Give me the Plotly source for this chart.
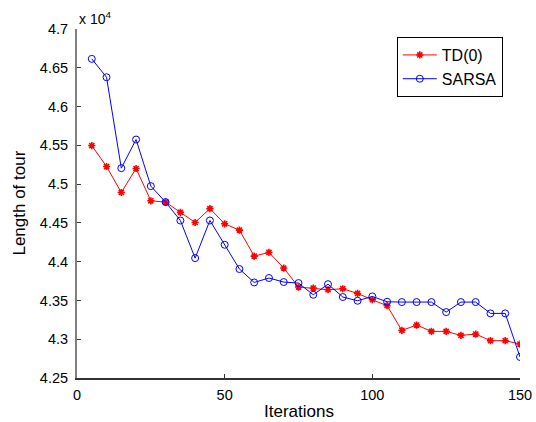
import plotly.graph_objects as go

# Iteration counts at which tour length was recorded
iterations = list(range(5, 155, 5))

# Length of tour for each method
td0 = [45497, 45227, 44892, 45201, 44785, 44768, 44636, 44505, 44684, 44488,
       44407, 44072, 44119, 43918, 43673, 43660, 43638, 43651, 43590, 43509,
       43432, 43113, 43183, 43101, 43101, 43049, 43067, 42981, 42981, 42938]
sarsa = [46615, 46378, 45206, 45575, 44974, 44768, 44531, 44046, 44531, 44218,
         43905, 43732, 43789, 43737, 43724, 43573, 43710, 43544, 43496, 43552,
         43483, 43479, 43479, 43479, 43350, 43479, 43479, 43333, 43333, 42771]

# Axis ticks
x_ticks = [0, 50, 100, 150]
y_ticks = [42500, 43000, 43500, 44000, 44500, 45000, 45500, 46000, 46500, 47000]
y_tick_text = ["4.25", "4.3", "4.35", "4.4", "4.45", "4.5", "4.55", "4.6", "4.65", "4.7"]

FONT = "Liberation Sans, Arial, Helvetica, sans-serif"

fig = go.Figure()
fig.add_trace(go.Scatter(
    x=iterations, y=td0, name="TD(0)", mode="lines+markers",
    line=dict(color="#ff0000", width=1),
    marker=dict(symbol="asterisk-open", size=6, color="#ff0000",
                line=dict(color="#ff0000", width=1.6)),
))
fig.add_trace(go.Scatter(
    x=iterations, y=sarsa, name="SARSA", mode="lines+markers",
    line=dict(color="#0000ff", width=1),
    marker=dict(symbol="circle-open", size=7, color="#0000ff",
                line=dict(color="#0000ff", width=1)),
))

fig.update_layout(
    width=536, height=422,
    margin=dict(l=77, r=16, t=29, b=44),
    paper_bgcolor="white", plot_bgcolor="white",
    font=dict(family=FONT, size=14.5, color="#000000"),
    showlegend=True,
    legend=dict(
        x=0.7219, y=0.977, xanchor="left", yanchor="top",
        bordercolor="#000000", borderwidth=1, bgcolor="white",
        font=dict(family=FONT, size=16),
        tracegroupgap=0, itemwidth=34,
    ),
    xaxis=dict(
        range=[0, 150], tickvals=x_ticks, ticks="inside", ticklen=4,
        tickcolor="#333333", showline=True, linecolor="#333333", linewidth=1.5,
        showgrid=False, zeroline=False, mirror=False, automargin=False,
        tickfont=dict(size=14.5), ticklabelstandoff=3,
    ),
    yaxis=dict(
        range=[42500, 47000], tickvals=y_ticks, ticktext=y_tick_text,
        ticks="inside", ticklen=4, tickcolor="#333333",
        showline=True, linecolor="#808080", linewidth=2,
        showgrid=False, zeroline=False, mirror=False, automargin=False,
        tickfont=dict(size=14.5), ticklabelstandoff=4,
    ),
    annotations=[
        dict(text="x 10<sup>4</sup>", x=0, y=1, xref="paper", yref="paper",
             xanchor="left", yanchor="bottom", xshift=0, yshift=0,
             showarrow=False, font=dict(family=FONT, size=14)),
        dict(text="Iterations", x=0.5, y=-0.0974, xref="paper", yref="paper",
             xanchor="center", yanchor="middle", showarrow=False,
             font=dict(family=FONT, size=17)),
        dict(text="Length of tour", x=-0.1308, y=0.5, xref="paper", yref="paper",
             xanchor="center", yanchor="middle", textangle=-90, showarrow=False,
             font=dict(family=FONT, size=17)),
    ],
)

fig.write_html("out.html")
